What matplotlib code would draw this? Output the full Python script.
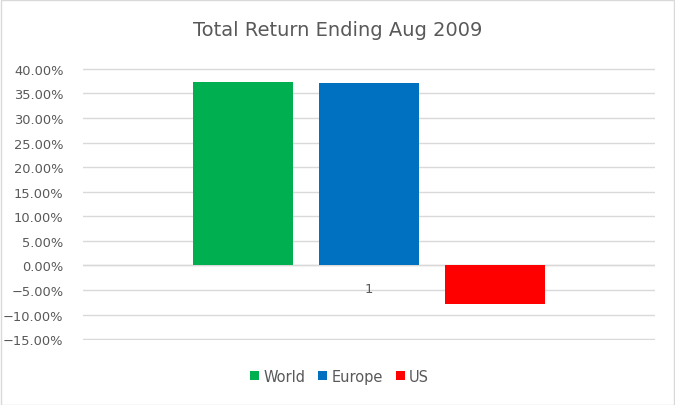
import numpy as np
import matplotlib.pyplot as plt
from matplotlib.ticker import PercentFormatter, MultipleLocator

# ---------- data --------------------------------------------------------------
series = ["World", "Europe", "US"]
returns = [37.4, 37.1, -7.9]          # percent
colors = ["#00b050", "#0070c0", "#ff0000"]
category = "1"

TEXT = "#595959"
GRID = "#d9d9d9"

# ---------- figure ------------------------------------------------------------
fig = plt.figure(figsize=(6.75, 4.06), dpi=100)
fig.patches.append(plt.Rectangle((0.001, 0.001), 0.997, 0.996,
                                 transform=fig.transFigure, fill=False,
                                 edgecolor="#d9d9d9", lw=1))
ax = fig.add_axes([0.123, 0.161, 0.847, 0.668])

width = 0.175
offsets = (np.arange(len(series)) - 1) * 0.221
for off, val, col, name in zip(offsets, returns, colors, series):
    ax.bar(off, val, width=width, color=col, label=name, zorder=3)

ax.set_xlim(-0.5, 0.5)
ax.set_ylim(-15.08, 40.08)
ax.yaxis.set_major_locator(MultipleLocator(5))
ax.yaxis.set_major_formatter(PercentFormatter(decimals=2))
ax.grid(axis="y", color=GRID, lw=1, zorder=0)
ax.tick_params(axis="y", length=0, pad=14, labelsize=9.4, labelcolor=TEXT)
ax.set_xticks([])
for s in ax.spines.values():
    s.set_visible(False)
ax.axhline(0, color=GRID, lw=1, zorder=1)

# category label sits just under the zero line
ax.text(0, -3.3, category, ha="center", va="top", fontsize=9.4, color=TEXT)

fig.text(0.5, 0.925, "Total Return Ending Aug 2009", ha="center",
         va="center", fontsize=14, color=TEXT)

leg = fig.legend(loc="center", bbox_to_anchor=(0.503, 0.071), ncol=3,
                 frameon=False, fontsize=10.5, handlelength=0.6,
                 handleheight=0.6, handletextpad=0.3, columnspacing=0.9)
for t in leg.get_texts():
    t.set_color(TEXT)

plt.savefig("out.png", dpi=100)
plt.close()
